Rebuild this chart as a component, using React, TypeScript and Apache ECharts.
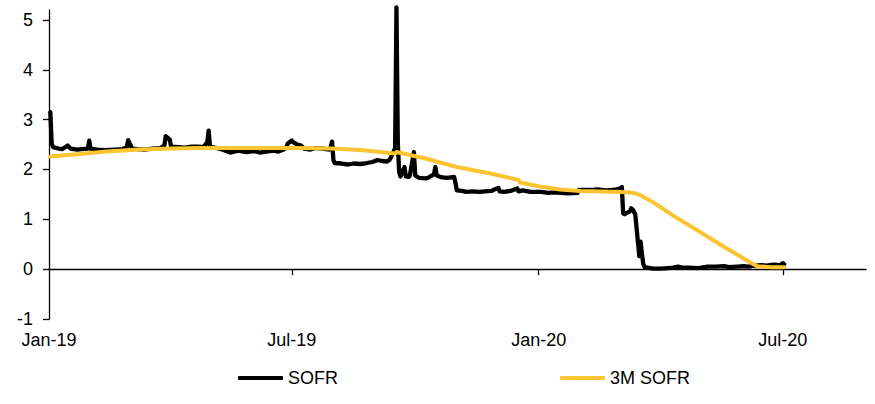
import React, { useEffect, useRef } from 'react';
import * as echarts from 'echarts';

// SOFR daily fixing (%)
const sofr: [string, number][] = [
  ['2019-01-02', 3.15], ['2019-01-03', 2.52], ['2019-01-04', 2.45], ['2019-01-08', 2.42],
  ['2019-01-11', 2.41], ['2019-01-15', 2.48], ['2019-01-17', 2.42], ['2019-01-22', 2.40],
  ['2019-01-25', 2.41], ['2019-01-30', 2.42], ['2019-01-31', 2.58], ['2019-02-01', 2.42],
  ['2019-02-06', 2.40], ['2019-02-12', 2.39], ['2019-02-19', 2.40], ['2019-02-25', 2.41],
  ['2019-02-28', 2.45], ['2019-03-01', 2.59], ['2019-03-04', 2.42], ['2019-03-08', 2.41],
  ['2019-03-13', 2.40], ['2019-03-19', 2.42], ['2019-03-25', 2.43], ['2019-03-28', 2.48],
  ['2019-03-29', 2.67], ['2019-04-01', 2.60], ['2019-04-02', 2.46], ['2019-04-08', 2.45],
  ['2019-04-12', 2.44], ['2019-04-17', 2.46], ['2019-04-22', 2.46], ['2019-04-26', 2.45],
  ['2019-04-29', 2.55], ['2019-04-30', 2.78], ['2019-05-01', 2.46], ['2019-05-06', 2.43],
  ['2019-05-10', 2.40], ['2019-05-16', 2.34], ['2019-05-22', 2.38], ['2019-05-28', 2.35],
  ['2019-06-03', 2.37], ['2019-06-07', 2.34], ['2019-06-12', 2.36], ['2019-06-17', 2.38],
  ['2019-06-21', 2.36], ['2019-06-25', 2.40], ['2019-06-27', 2.45], ['2019-06-28', 2.52],
  ['2019-07-01', 2.58], ['2019-07-02', 2.55], ['2019-07-05', 2.50], ['2019-07-08', 2.48],
  ['2019-07-10', 2.42], ['2019-07-15', 2.40], ['2019-07-19', 2.43], ['2019-07-24', 2.42],
  ['2019-07-29', 2.40], ['2019-07-30', 2.45], ['2019-07-31', 2.56], ['2019-08-01', 2.19],
  ['2019-08-02', 2.13], ['2019-08-07', 2.12], ['2019-08-12', 2.10], ['2019-08-16', 2.12],
  ['2019-08-21', 2.11], ['2019-08-26', 2.13], ['2019-08-30', 2.15], ['2019-09-03', 2.19],
  ['2019-09-06', 2.17], ['2019-09-10', 2.16], ['2019-09-12', 2.20], ['2019-09-13', 2.25],
  ['2019-09-16', 2.43], ['2019-09-17', 5.25], ['2019-09-18', 2.55], ['2019-09-19', 1.95],
  ['2019-09-20', 1.86], ['2019-09-23', 2.05], ['2019-09-24', 1.86], ['2019-09-26', 1.85],
  ['2019-09-27', 1.88], ['2019-09-30', 2.35], ['2019-10-01', 1.88], ['2019-10-04', 1.83],
  ['2019-10-09', 1.82], ['2019-10-11', 1.84], ['2019-10-15', 1.90], ['2019-10-16', 2.05],
  ['2019-10-17', 1.88], ['2019-10-21', 1.84], ['2019-10-25', 1.83], ['2019-10-30', 1.85],
  ['2019-10-31', 1.73], ['2019-11-01', 1.58], ['2019-11-05', 1.57], ['2019-11-08', 1.55],
  ['2019-11-13', 1.56], ['2019-11-18', 1.55], ['2019-11-22', 1.56], ['2019-11-27', 1.57],
  ['2019-11-29', 1.60], ['2019-12-02', 1.63], ['2019-12-03', 1.56], ['2019-12-06', 1.55],
  ['2019-12-11', 1.57], ['2019-12-16', 1.62], ['2019-12-17', 1.56], ['2019-12-20', 1.58],
  ['2019-12-26', 1.55], ['2019-12-31', 1.55], ['2020-01-03', 1.55], ['2020-01-08', 1.53],
  ['2020-01-13', 1.54], ['2020-01-17', 1.53], ['2020-01-23', 1.52], ['2020-01-30', 1.53],
  ['2020-01-31', 1.59], ['2020-02-04', 1.59], ['2020-02-10', 1.59], ['2020-02-14', 1.60],
  ['2020-02-20', 1.58], ['2020-02-25', 1.59], ['2020-02-28', 1.60], ['2020-03-02', 1.62],
  ['2020-03-03', 1.65], ['2020-03-04', 1.12], ['2020-03-05', 1.10], ['2020-03-06', 1.12],
  ['2020-03-09', 1.16], ['2020-03-10', 1.22], ['2020-03-11', 1.20], ['2020-03-12', 1.15],
  ['2020-03-13', 1.10], ['2020-03-16', 0.26], ['2020-03-17', 0.55], ['2020-03-18', 0.30],
  ['2020-03-19', 0.10], ['2020-03-20', 0.04], ['2020-03-24', 0.02], ['2020-03-27', 0.01],
  ['2020-04-01', 0.01], ['2020-04-06', 0.02], ['2020-04-10', 0.03], ['2020-04-14', 0.05],
  ['2020-04-17', 0.03], ['2020-04-22', 0.03], ['2020-04-28', 0.02], ['2020-05-01', 0.03],
  ['2020-05-06', 0.05], ['2020-05-12', 0.05], ['2020-05-18', 0.06], ['2020-05-22', 0.04],
  ['2020-05-28', 0.05], ['2020-06-02', 0.06], ['2020-06-05', 0.05], ['2020-06-10', 0.07],
  ['2020-06-15', 0.08], ['2020-06-19', 0.07], ['2020-06-24', 0.09], ['2020-06-29', 0.08],
  ['2020-06-30', 0.10], ['2020-07-01', 0.12], ['2020-07-02', 0.10],
];

// 3M SOFR average (%)
const sofr3m: [string, number][] = [
  ['2019-01-02', 2.26], ['2019-01-24', 2.31], ['2019-02-13', 2.36], ['2019-03-09', 2.40],
  ['2019-04-03', 2.42], ['2019-04-23', 2.43], ['2019-05-23', 2.43], ['2019-07-06', 2.43],
  ['2019-07-30', 2.42], ['2019-08-21', 2.39], ['2019-09-12', 2.33], ['2019-09-16', 2.32],
  ['2019-09-17', 2.35], ['2019-10-07', 2.23], ['2019-11-01', 2.05], ['2019-11-26', 1.92],
  ['2019-12-17', 1.79], ['2019-12-18', 1.74], ['2020-01-02', 1.66], ['2020-01-17', 1.60],
  ['2020-02-01', 1.57], ['2020-03-02', 1.55], ['2020-03-09', 1.54], ['2020-03-13', 1.52],
  ['2020-03-18', 1.47], ['2020-03-27', 1.33], ['2020-04-10', 1.08], ['2020-04-30', 0.75],
  ['2020-05-15', 0.50], ['2020-05-30', 0.26], ['2020-06-07', 0.13], ['2020-06-12', 0.06],
  ['2020-06-22', 0.04], ['2020-07-02', 0.04],
];

const xStart = '2019-01-01';
const xEnd = '2020-09-01';
const xLabelDates = ['2019-01-01', '2019-07-01', '2020-01-01', '2020-07-01'];
const xTickDates = ['2019-07-01', '2020-01-01', '2020-07-01'];
const yTicks = [-1, 0, 1, 2, 3, 4, 5];
const MONTHS = ['Jan', 'Feb', 'Mar', 'Apr', 'May', 'Jun', 'Jul', 'Aug', 'Sep', 'Oct', 'Nov', 'Dec'];

const FONT = '"Liberation Sans", Arial, Helvetica, sans-serif';
const YELLOW = '#FCC431';
const DAY = 86400000;

const toMs = (s: string) => {
  const [y, m, d] = s.split('-').map(Number);
  return Date.UTC(y, m - 1, d);
};
const origin = toMs(xStart);
const toDay = (s: string) => Math.round((toMs(s) - origin) / DAY);
const dayLabel = (v: number) => {
  const d = new Date(origin + Math.round(v) * DAY);
  return MONTHS[d.getUTCMonth()] + '-' + String(d.getUTCFullYear()).slice(2);
};

export default function App() {
  const ref = useRef<HTMLDivElement>(null);
  useEffect(() => {
    document.body.style.margin = '0';
    const chart = echarts.init(ref.current!, null, { renderer: 'svg' });
    const legendText = { fontSize: 18, color: '#000', fontFamily: FONT };
    chart.setOption({
      animation: false,
      backgroundColor: '#fff',
      textStyle: { fontFamily: FONT, color: '#000' },
      grid: { left: 49, right: 9, top: 10, bottom: 85, containLabel: false },
      legend: [
        {
          data: ['SOFR'], left: 233, top: 364, icon: 'roundRect', itemWidth: 45, itemHeight: 4,
          textStyle: legendText, selectedMode: false,
        },
        {
          data: ['3M SOFR'], left: 555, top: 364, icon: 'roundRect', itemWidth: 45, itemHeight: 4,
          textStyle: legendText, selectedMode: false,
        },
      ],
      xAxis: [
        {
          type: 'value', min: 0, max: toDay(xEnd), position: 'bottom',
          axisLine: { show: false, onZero: false }, axisTick: { show: false }, splitLine: { show: false },
          axisLabel: {
            customValues: xLabelDates.map(toDay), formatter: dayLabel, fontSize: 18, color: '#000',
            margin: 12, fontFamily: FONT,
          },
        },
        {
          type: 'value', min: 0, max: toDay(xEnd), position: 'top',
          axisLine: { show: true, onZero: true, onZeroAxisIndex: 0, lineStyle: { color: '#000', width: 1.3 } },
          axisTick: {
            show: true, inside: true, length: 6, customValues: xTickDates.map(toDay),
            lineStyle: { color: '#000', width: 1.3 },
          },
          axisLabel: { show: false }, splitLine: { show: false },
        },
      ],
      yAxis: {
        type: 'value', min: -1, max: 5.2,
        axisLine: { show: true, onZero: false, lineStyle: { color: '#000', width: 1.3 } },
        axisTick: { show: true, length: 6, customValues: yTicks, lineStyle: { color: '#000', width: 1.3 } },
        axisLabel: { customValues: yTicks, fontSize: 18, color: '#000', margin: 16, fontFamily: FONT },
        splitLine: { show: false },
      },
      series: [
        {
          name: 'SOFR', type: 'line', xAxisIndex: 0, data: sofr.map(([d, v]) => [toDay(d), v]),
          showSymbol: false, symbol: 'none', clip: false, color: '#000',
          lineStyle: { color: '#000', width: 4.3, join: 'round', cap: 'round' },
        },
        {
          name: '3M SOFR', type: 'line', xAxisIndex: 0, data: sofr3m.map(([d, v]) => [toDay(d), v]),
          showSymbol: false, symbol: 'none', clip: false, color: YELLOW,
          lineStyle: { color: YELLOW, width: 4, join: 'round', cap: 'round' },
        },
      ],
    });
    return () => chart.dispose();
  }, []);
  return <div ref={ref} style={{ width: 875, height: 404 }} />;
}
